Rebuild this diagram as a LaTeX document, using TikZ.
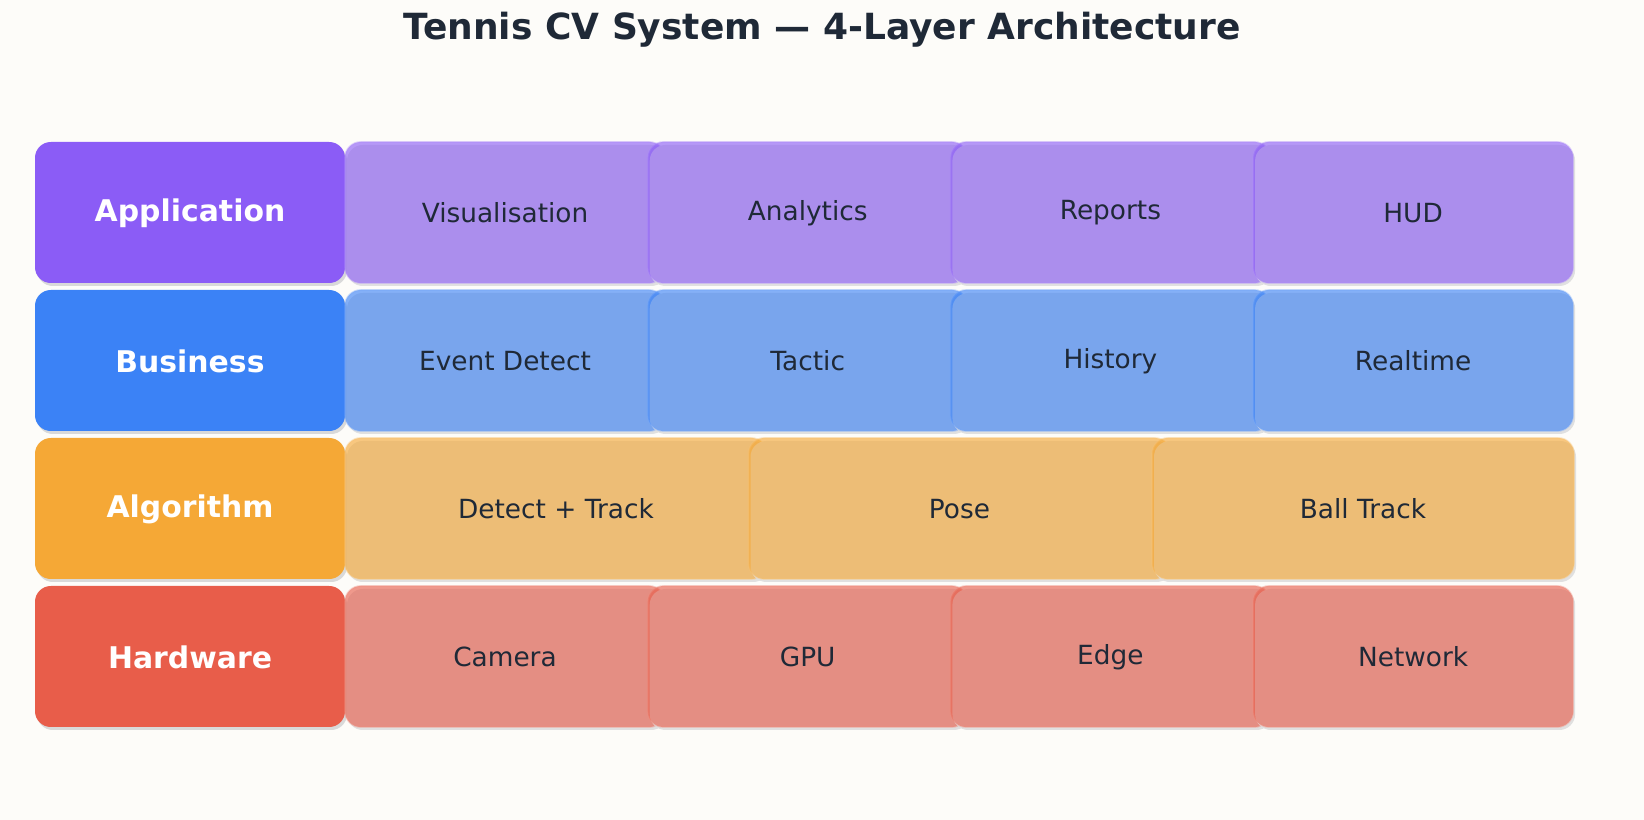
\documentclass[tikz,border=0pt]{standalone}
\usepackage{fontspec}
\setmainfont{DejaVu Sans}
\usetikzlibrary{positioning}
\definecolor{bg}{HTML}{FDFCF9}
\definecolor{ink}{HTML}{1F2937}
\definecolor{appc}{HTML}{8B5CF6}
\definecolor{busc}{HTML}{3B82F6}
\definecolor{algc}{HTML}{F5A836}
\definecolor{hwc}{HTML}{E85D4A}
\begin{document}
\begin{tikzpicture}
[x=0.02cm,y=-0.02cm,
layer/.style = {rounded corners=9pt, fill=#1, draw=black!15, line width=0.6pt},
cell/.style = {rounded corners=9pt, fill=#1, fill opacity=0.62, draw=#1!70, draw opacity=0.4, line width=1pt},
head/.style = {text=white, font=\bfseries\fontsize{17}{20}\selectfont},
item/.style = {text=ink, font=\fontsize{15}{18}\selectfont},]
\fill[bg] (0,0) rectangle (1644,820);
\node (title) at (822,30) [text=ink, font=\bfseries\fontsize{20.5}{24}\selectfont] {Tennis CV System — 4-Layer Architecture};
% layer rows
\foreach \name/\col/\y in {Application/appc/142, Business/busc/290, Algorithm/algc/438, Hardware/hwc/586}{
  \fill[black!15, rounded corners=9pt] (37,\y+3) rectangle (347,\y+144);
  \fill[\col, rounded corners=9pt] (35,\y) rectangle (345,\y+141);
  \node (L\name) at (190,\y+71) [head] {\name};
}
% cells, four per row
\foreach \txt [count=\i] in {Visualisation, Analytics, Reports, HUD}{
  \pgfmathsetmacro{\xa}{345+(\i-1)*302.7}
  \fill[black!12, rounded corners=9pt] (\xa+2,145) rectangle (\xa+322,286);
  \draw[cell=appc] (\xa,142) rectangle (\xa+320,283);
  \node (A\i) at (\xa+160,213) [item] {\txt};
}
\foreach \txt [count=\i] in {Event Detect, Tactic, History, Realtime}{
  \pgfmathsetmacro{\xa}{345+(\i-1)*302.7}
  \fill[black!12, rounded corners=9pt] (\xa+2,293) rectangle (\xa+322,434);
  \draw[cell=busc] (\xa,290) rectangle (\xa+320,431);
  \node (B\i) at (\xa+160,361) [item] {\txt};
}
\foreach \txt [count=\i] in {Detect + Track, Pose, Ball Track}{
  \pgfmathsetmacro{\xa}{345+(\i-1)*403.5}
  \fill[black!12, rounded corners=9pt] (\xa+2,441) rectangle (\xa+424,582);
  \draw[cell=algc] (\xa,438) rectangle (\xa+422,579);
  \node (C\i) at (\xa+211,509) [item] {\txt};
}
\foreach \txt [count=\i] in {Camera, GPU, Edge, Network}{
  \pgfmathsetmacro{\xa}{345+(\i-1)*302.7}
  \fill[black!12, rounded corners=9pt] (\xa+2,589) rectangle (\xa+322,730);
  \draw[cell=hwc] (\xa,586) rectangle (\xa+320,727);
  \node (D\i) at (\xa+160,657) [item] {\txt};
}
\end{tikzpicture}
\end{document}
